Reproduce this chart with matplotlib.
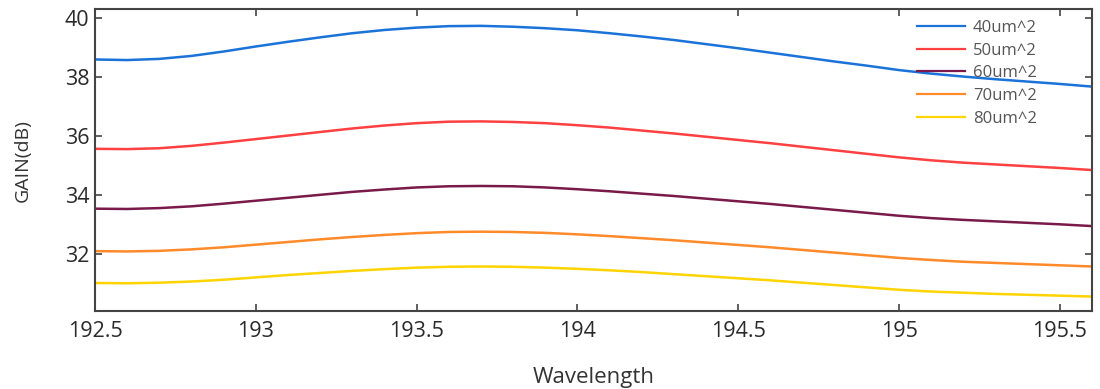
import matplotlib
matplotlib.use("Agg")
import matplotlib.pyplot as plt

wavelength = [192.5, 192.6, 192.7, 192.8, 192.9, 193.0, 193.1, 193.2, 193.3, 193.4, 193.5,
              193.6, 193.7, 193.8, 193.9, 194.0, 194.1, 194.2, 194.3, 194.4, 194.5,
              194.6, 194.7, 194.8, 194.9, 195.0, 195.1, 195.2, 195.3, 195.4, 195.5, 195.6]

gain_40 = [38.58, 38.56, 38.60, 38.70, 38.85, 39.02, 39.18, 39.33, 39.47, 39.58, 39.66,
           39.71, 39.72, 39.69, 39.64, 39.57, 39.47, 39.36, 39.24, 39.10, 38.96,
           38.81, 38.66, 38.51, 38.37, 38.22, 38.10, 38.00, 37.91, 37.83, 37.75, 37.66]
gain_50 = [35.55, 35.54, 35.57, 35.65, 35.76, 35.88, 36.00, 36.12, 36.24, 36.34, 36.42,
           36.47, 36.48, 36.46, 36.42, 36.35, 36.27, 36.17, 36.07, 35.96, 35.85,
           35.74, 35.62, 35.50, 35.38, 35.26, 35.16, 35.08, 35.02, 34.96, 34.90, 34.83]
gain_60 = [33.52, 33.51, 33.54, 33.60, 33.69, 33.79, 33.89, 33.99, 34.09, 34.17, 34.24,
           34.28, 34.29, 34.28, 34.24, 34.18, 34.11, 34.03, 33.95, 33.86, 33.77,
           33.68, 33.58, 33.48, 33.38, 33.28, 33.20, 33.14, 33.09, 33.04, 32.99, 32.93]
gain_70 = [32.08, 32.07, 32.09, 32.14, 32.21, 32.30, 32.39, 32.48, 32.56, 32.63, 32.69,
           32.73, 32.74, 32.73, 32.70, 32.65, 32.59, 32.52, 32.45, 32.37, 32.29,
           32.21, 32.12, 32.03, 31.94, 31.85, 31.78, 31.72, 31.68, 31.64, 31.60, 31.56]
gain_80 = [31.00, 30.99, 31.01, 31.05, 31.11, 31.19, 31.27, 31.34, 31.41, 31.47, 31.52,
           31.55, 31.56, 31.55, 31.52, 31.48, 31.43, 31.37, 31.30, 31.23, 31.16,
           31.09, 31.01, 30.93, 30.85, 30.77, 30.71, 30.67, 30.63, 30.60, 30.57, 30.54]

labels = ["40um^2", "50um^2", "60um^2", "70um^2", "80um^2"]
colors = ["#1a73d9", "#ff4040", "#7a1a4a", "#ff8a2a", "#ffd400"]
xticks = [192.5, 193, 193.5, 194, 194.5, 195, 195.5]
xticklabels = ["192.5", "193", "193.5", "194", "194.5", "195", "195.5"]
yticks = [32, 34, 36, 38, 40]

plt.rcParams['font.family'] = ['Open Sans', 'DejaVu Sans']

fig = plt.figure(figsize=(11, 3.89), dpi=100)
ax = fig.add_axes([0.0864, 0.2005, 0.9063, 0.7755])

for series, lab, col in zip([gain_40, gain_50, gain_60, gain_70, gain_80], labels, colors):
    ax.plot(wavelength, series, color=col, lw=1.8, label=lab)

ax.set_xlim(192.5, 195.6)
ax.set_ylim(30.05, 40.28)
ax.set_xticks(xticks)
ax.set_xticklabels(xticklabels)
ax.set_yticks(yticks)

ax.tick_params(direction='in', length=5, width=1.2, colors='#444444',
               top=True, right=True, labelsize=15.5, labelcolor='#2a2a2a')
ax.tick_params(axis='x', pad=7)
ax.tick_params(axis='y', pad=4)
for s in ax.spines.values():
    s.set_color('#444444')
    s.set_linewidth(1.5)

ax.set_xlabel("Wavelength", fontsize=16, color='#333333', labelpad=18)
ax.set_ylabel("GAIN(dB)", fontsize=14, color='#333333', labelpad=24)

leg = ax.legend(loc='upper left', bbox_to_anchor=(0.8245, 0.965), frameon=False,
                fontsize=12, handlelength=2.9, labelspacing=0.4, handletextpad=0.45,
                borderpad=0, borderaxespad=0)
for t in leg.get_texts():
    t.set_color('#555555')
for h in leg.get_lines():
    h.set_linewidth(1.6)

fig.savefig("out.png", dpi=100)
